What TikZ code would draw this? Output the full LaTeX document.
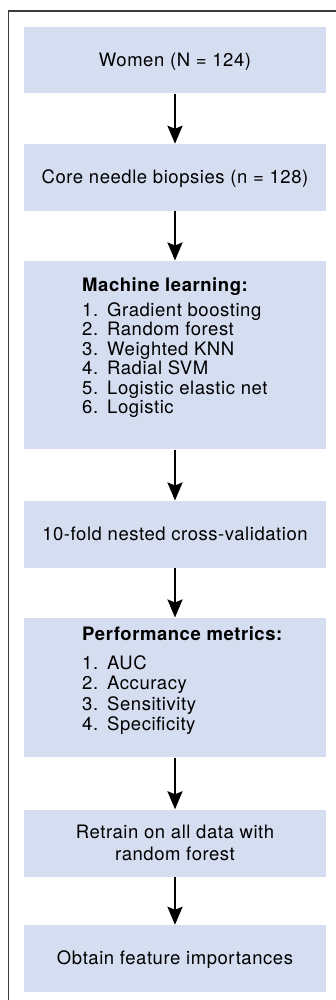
\documentclass[tikz,border=0pt]{standalone}
\usepackage{fontspec}
\setmainfont{TeX Gyre Heros}[LetterSpace=3]
\usetikzlibrary{arrows.meta}
\definecolor{boxfill}{RGB}{213,221,240}
\definecolor{framegray}{RGB}{60,60,60}
\newcommand{\stepitem}[2]{\makebox[25pt][l]{#1}#2}
\begin{document}
\begin{tikzpicture}[x=1pt,y=-1pt,
  stage/.style={fill=boxfill,draw=none,minimum width=302pt,inner sep=0pt,
    font=\fontsize{18.5}{22.5}\selectfont},
  oneline/.style={stage,text height=13pt,text depth=0pt},
  listtext/.style={inner sep=0pt,anchor=base west,
    font=\fontsize{18.5}{19.5}\selectfont},
  flow/.style={line width=2.3pt,-{Stealth[length=18pt,width=15pt,inset=3pt]}}]
\useasboundingbox (0,0) rectangle (336,1000);
\clip (0,0) rectangle (336,1000);
% outer frame (runs past the right and bottom edges)
\draw[framegray,line width=1.8pt] (8.5,1010) -- (8.5,11) -- (346,11);

% stages
\node[oneline,minimum height=66.7pt] (women) at (175,60) {Women (N = 124)};
\node[oneline,minimum height=66.7pt] (biopsy) at (175,177.3) {Core needle biopsies (n = 128)};
\node[stage,minimum height=188.6pt] (ml) at (175,355) {};
\node[oneline,minimum height=67pt] (cv) at (175,534.2) {10-fold nested cross-validation};
\node[stage,minimum height=139.6pt] (perf) at (175,687.5) {};
\node[stage,minimum height=67pt,align=center] (retrain) at (175,843) {Retrain on all data with\\random forest};
\node[oneline,minimum height=66.7pt] (feat) at (175,958.3) {Obtain feature importances};

% list contents (first baseline at the anchor)
\node[listtext] (mltext) at (82,291.5) {%
  \begin{tabular}[t]{@{}l@{}}
  \textbf{Machine learning:}\\[5pt]
  \stepitem{1.}{Gradient boosting}\\
  \stepitem{2.}{Random forest}\\
  \stepitem{3.}{Weighted KNN}\\
  \stepitem{4.}{Radial SVM}\\
  \stepitem{5.}{Logistic elastic net}\\
  \stepitem{6.}{Logistic}
  \end{tabular}};
\node[listtext,font=\fontsize{18.5}{20.5}\selectfont] (perftext) at (82,640.5) {%
  \begin{tabular}[t]{@{}l@{}}
  \textbf{Performance metrics:}\\[8pt]
  \stepitem{1.}{AUC}\\
  \stepitem{2.}{Accuracy}\\
  \stepitem{3.}{Sensitivity}\\
  \stepitem{4.}{Specificity}
  \end{tabular}};

% connectors
\draw[flow] (women) -- (biopsy);
\draw[flow] (biopsy) -- (ml);
\draw[flow] (ml) -- (cv);
\draw[flow] (cv) -- (perf);
\draw[flow] (perf) -- (retrain);
\draw[flow] (retrain) -- (feat);
\end{tikzpicture}
\end{document}
